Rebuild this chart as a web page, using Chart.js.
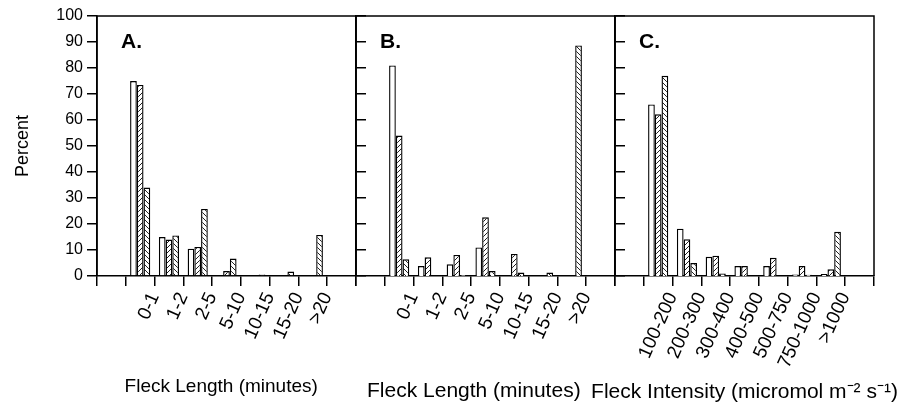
<!DOCTYPE html>
<html>
<head>
<meta charset="utf-8">
<script src="https://cdn.jsdelivr.net/npm/chart.js@4.4.0/dist/chart.umd.min.js"></script>
<style>
  html, body { margin: 0; padding: 0; background: #fff; }
  #wrap { position: relative; width: 915px; height: 407px; }
  #wrap canvas { position: absolute; left: 0; top: 0; }
</style>
</head>
<body>
<div id="wrap">
  <canvas id="panelA" width="915" height="407"></canvas>
  <canvas id="panelB" width="915" height="407"></canvas>
  <canvas id="panelC" width="915" height="407"></canvas>
</div>
<script>
// categories (first and last slots are empty on the original axes)
const lengthLabels = ["", "0-1", "1-2", "2-5", "5-10", "10-15", "15-20", ">20", ""];
const intensityLabels = ["", "100-200", "200-300", "300-400", "400-500", "500-750", "750-1000", ">1000", ""];
const yTicks = [0, 10, 20, 30, 40, 50, 60, 70, 80, 90, 100];

// A. fleck length
const aOpen = [null, 75, 15, 10.5, 0, 0, 0, 0, null];
const aFwd = [null, 73.5, 14, 11.2, 1.9, 0, 0, 0, null];
const aBack = [null, 34, 15.6, 25.8, 6.7, 0.6, 1.7, 15.8, null];

// B. fleck length
const bOpen = [null, 81, 3.8, 4.5, 11, 0, 0, 0, null];
const bFwd = [null, 54, 7.2, 8.1, 22.6, 8.5, 0, 0, null];
const bBack = [null, 6.4, 0, 0.4, 1.9, 1.3, 1.3, 88.7, null];

// C. fleck intensity
const cOpen = [null, 66, 18.2, 7.4, 3.8, 3.8, 0.6, 0.8, null];
const cFwd = [null, 62.2, 14.1, 7.8, 3.8, 7, 3.8, 2.6, null];
const cBack = [null, 77, 5, 1, 0, 0, 0.5, 17, null];

const FONT = '"Liberation Sans", Arial, sans-serif';
Chart.defaults.font.family = FONT;
Chart.defaults.color = "#000";
Chart.defaults.animation = false;

function hatch(dir) {
  const c = document.createElement("canvas");
  c.width = 5;
  c.height = 5;
  const g = c.getContext("2d");
  g.fillStyle = "#fff";
  g.fillRect(0, 0, 5, 5);
  g.strokeStyle = "#222";
  g.lineWidth = 1;
  g.beginPath();
  if (dir > 0) {
    g.moveTo(0, 5); g.lineTo(5, 0);
    g.moveTo(-1, 1); g.lineTo(1, -1);
    g.moveTo(4, 6); g.lineTo(6, 4);
  } else {
    g.moveTo(0, 0); g.lineTo(5, 5);
    g.moveTo(-1, 4); g.lineTo(1, 6);
    g.moveTo(4, -1); g.lineTo(6, 1);
  }
  g.stroke();
  return g.createPattern(c, "repeat");
}

const fwdFill = hatch(1);
const backFill = hatch(-1);

// top/left/right frame, the panel letter and (when too wide for the axis) the x title
const framePlugin = {
  id: "frame",
  afterDraw(chart, args, opts) {
    const { ctx, chartArea: a } = chart;
    ctx.save();
    ctx.strokeStyle = "#000";
    ctx.lineWidth = 1.5;
    ctx.beginPath();
    ctx.moveTo(a.left, a.bottom);
    ctx.lineTo(a.left, a.top);
    ctx.lineTo(a.right, a.top);
    ctx.lineTo(a.right, a.bottom);
    ctx.stroke();
    ctx.fillStyle = "#000";
    ctx.font = "bold 21px " + FONT;
    ctx.textBaseline = "alphabetic";
    ctx.fillText(opts.letter, a.left + 24, a.top + 32);
    if (opts.wideTitle) {
      ctx.font = opts.wideTitle.size + "px " + FONT;
      ctx.textAlign = "center";
      ctx.textBaseline = "middle";
      ctx.fillText(opts.wideTitle.text, (a.left + a.right) / 2, opts.wideTitle.y);
    }
    ctx.restore();
  },
};

function makePanel(id, cfg) {
  const scales = {
    x: {
      type: "category",
      labels: cfg.labels,
      offset: true,
      grid: {
        offset: true,
        drawOnChartArea: false,
        tickLength: 10,
        color: "#000",
        lineWidth: 1.5,
      },
      border: { color: "#000", width: 1.5 },
      ticks: {
        autoSkip: false,
        minRotation: 66,
        maxRotation: 66,
        labelOffset: 14.4,
        font: { size: 19 },
      },
      title: {
        display: !!cfg.title,
        text: cfg.title,
        font: { size: cfg.titleSize },
        padding: { top: 0, bottom: cfg.titleBottom },
      },
      afterFit: (s) => { s.height = 131; },
    },
    y: {
      display: cfg.showY,
      min: 0,
      max: 100,
      afterBuildTicks: (s) => { s.ticks = yTicks.map((v) => ({ value: v })); },
      grid: { drawOnChartArea: false, tickLength: 10, color: "#000", lineWidth: 1.5 },
      border: { color: "#000", width: 1.5 },
      ticks: { font: { size: 16 }, padding: 4 },
      title: {
        display: true,
        text: "Percent",
        font: { size: 18 },
        padding: { top: 12, bottom: 0 },
      },
    },
  };
  if (cfg.showY) {
    scales.y.afterFit = (s) => { s.width = 97; };
  }
  if (cfg.innerTicks) {
    // tick marks pointing into the next panel
    scales.y2 = {
      position: "right",
      min: 0,
      max: 100,
      afterBuildTicks: (s) => { s.ticks = yTicks.map((v) => ({ value: v })); },
      grid: { drawOnChartArea: false, tickLength: 10, color: "#000", lineWidth: 1.5 },
      border: { color: "#000", width: 1.5 },
      ticks: { display: false },
      afterFit: (s) => { s.width = 10; },
    };
  }

  return new Chart(document.getElementById(id), {
    type: "bar",
    data: {
      labels: cfg.labels,
      datasets: [
        { data: cfg.open, backgroundColor: "#fff" },
        { data: cfg.fwd, backgroundColor: fwdFill },
        { data: cfg.back, backgroundColor: backFill },
      ].map((d) => ({
        ...d,
        borderColor: "#000",
        borderWidth: 1.4,
        categoryPercentage: 0.7,
        barPercentage: 1.0,
      })),
    },
    options: {
      responsive: false,
      layout: { padding: cfg.padding },
      plugins: {
        legend: { display: false },
        tooltip: { enabled: false },
        frame: { letter: cfg.letter, wideTitle: cfg.wideTitle },
      },
      scales: scales,
    },
    plugins: [framePlugin],
  });
}

makePanel("panelA", {
  letter: "A.",
  labels: lengthLabels,
  open: aOpen, fwd: aFwd, back: aBack,
  title: "Fleck Length (minutes)  ",
  titleSize: 19,
  titleBottom: 9,
  showY: true,
  innerTicks: true,
  padding: { left: 0, right: 549, top: 16, bottom: 0 },
});

makePanel("panelB", {
  letter: "B.",
  labels: lengthLabels,
  open: bOpen, fwd: bFwd, back: bBack,
  title: "Fleck Length (minutes)    ",
  titleSize: 21,
  titleBottom: 3,
  showY: false,
  innerTicks: true,
  padding: { left: 356, right: 290, top: 16, bottom: 0 },
});

makePanel("panelC", {
  letter: "C.",
  labels: intensityLabels,
  open: cOpen, fwd: cFwd, back: cBack,
  wideTitle: { text: "Fleck Intensity (micromol m\u207B\u00B2 s\u207B\u00B9)", size: 21, y: 392 },
  showY: false,
  innerTicks: false,
  padding: { left: 615, right: 41, top: 16, bottom: 0 },
});
</script>
</body>
</html>
